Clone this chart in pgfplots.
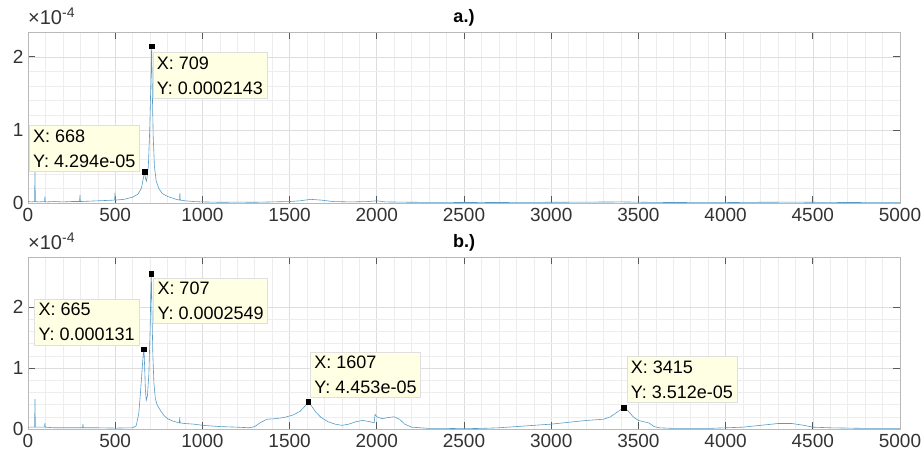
\documentclass[border=0pt]{standalone}
\usepackage{pgfplots}
\pgfplotsset{compat=1.18}
\usepackage{fontspec}
\setmainfont{Liberation Sans}
\definecolor{specline}{RGB}{85,155,200}
\definecolor{tipfill}{RGB}{255,255,228}
\pgfplotsset{
  spec/.style={
    scale only axis, width=872pt, xmin=0, xmax=5000,
    xtick={0,500,...,5000}, minor x tick num=4, minor y tick num=4,
    ytick={0,1,2},
    grid=both,
    major grid style={gray!27, line width=0.6pt},
    minor grid style={gray!14, line width=0.5pt},
    axis line style={gray!55, line width=0.8pt},
    tick align=inside, major tick length=7pt, minor tick length=0pt,
    every tick/.style={black!65, line width=0.8pt},
    tick label style={font=\fontsize{19}{21}\selectfont, text=black!80},
    /pgf/number format/assume math mode=true,
    /pgf/number format/1000 sep={},
    xticklabel style={yshift=-2pt}, yticklabel style={xshift=-1pt},
    title style={font=\bfseries\fontsize{18}{20}\selectfont, yshift=-4pt},
    clip=false,
  },
}
\tikzset{
  tip/.style={fill=tipfill, draw=gray!25, line width=0.4pt, align=left,
    font=\fontsize{18}{25}\selectfont, inner xsep=4pt, inner ysep=4pt},
  expo/.style={anchor=south west, inner sep=0pt, font=\fontsize{20}{22}\selectfont, text=black!80},
}
\begin{document}
\begin{tikzpicture}
\useasboundingbox (-28pt,-256pt) rectangle (894pt,203pt);
% ---------------- a.)
\begin{axis}[spec, at={(0pt,0pt)}, height=171pt, ymin=0, ymax=2.34, title={a.)}]
\addplot[specline, line width=0.6pt] coordinates {
(0,0.02) (20,0.015) (38,0.02) (40,0.46) (42,0.02) (60,0.015) (95,0.02) (97,0.09) (99,0.015)
(150,0.02) (200,0.015) (250,0.02) (296,0.02) (298,0.11) (300,0.02) (350,0.025) (400,0.03)
(450,0.035) (497,0.04) (499,0.14) (501,0.04) (550,0.05) (600,0.08) (630,0.12) (650,0.2)
(660,0.32) (668,0.4294) (674,0.33) (680,0.3) (690,0.5) (698,1.0) (704,1.6) (709,2.143)
(713,1.5) (718,0.9) (725,0.5) (735,0.3) (750,0.2) (770,0.13) (800,0.09) (850,0.05)
(869,0.04) (871,0.14) (873,0.04) (900,0.03) (950,0.02) (1000,0.015) (1100,0.01)
(1200,0.012) (1300,0.01) (1400,0.015) (1500,0.02) (1560,0.03) (1620,0.05) (1680,0.04)
(1750,0.02) (1850,0.015) (1950,0.02) (2000,0.03) (2050,0.015) (2200,0.01) (2400,0.008)
(2600,0.006) (2800,0.008) (3000,0.01) (3200,0.012) (3400,0.015) (3600,0.008) (3800,0.006)
(4000,0.006) (4200,0.01) (4400,0.012) (4600,0.008) (4800,0.006) (5000,0.005)
};
\addplot[only marks, mark=square*, mark size=2.3pt, black] coordinates {(668,0.4294) (709,2.143)};
\node[tip, anchor=south east] at ([xshift=-5pt,yshift=0pt]axis cs:668,0.4294) {X: 668\\Y: 4.294e-05};
\node[tip, anchor=north west] at ([xshift=1pt,yshift=-6pt]axis cs:709,2.143) {X: 709\\Y: 0.0002143};
\node[expo] at ([yshift=7pt]rel axis cs:0,1) {×10\raisebox{7pt}{\fontsize{14}{16}\selectfont -4}};
\end{axis}
% ---------------- b.)
\begin{axis}[spec, at={(0pt,-226pt)}, height=172pt, ymin=0, ymax=2.82, title={b.)}]
\addplot[specline, line width=0.6pt] coordinates {
(0,0.03) (38,0.03) (40,0.49) (42,0.03) (95,0.03) (97,0.1) (99,0.03) (150,0.02) (250,0.02)
(313,0.02) (315,0.08) (317,0.02) (400,0.02) (500,0.015) (600,0.02) (620,0.05) (635,0.25)
(645,0.6) (655,1.0) (660,1.2) (665,1.31) (669,1.0) (673,0.65) (678,0.47) (685,0.55)
(693,0.9) (700,1.6) (704,2.2) (707,2.549) (711,1.9) (716,1.2) (722,0.75) (730,0.5)
(740,0.4) (760,0.3) (780,0.22) (800,0.17) (830,0.13) (868,0.1) (870,0.19) (872,0.1)
(900,0.09) (950,0.08) (1000,0.06) (1100,0.04) (1200,0.03) (1270,0.02) (1300,0.04)
(1330,0.1) (1370,0.16) (1420,0.17) (1470,0.19) (1520,0.23) (1560,0.29) (1590,0.38)
(1607,0.4453) (1625,0.38) (1650,0.28) (1680,0.19) (1720,0.12) (1760,0.08) (1800,0.06)
(1840,0.08) (1880,0.12) (1920,0.14) (1960,0.12) (1985,0.1) (1990,0.24) (2000,0.2)
(2030,0.17) (2070,0.19) (2100,0.2) (2130,0.16) (2160,0.08) (2200,0.03) (2300,0.01)
(2400,0.01) (2500,0.005) (2600,0.01) (2700,0.02) (2800,0.04) (2900,0.06) (3000,0.08)
(3100,0.11) (3200,0.14) (3250,0.15) (3300,0.16) (3340,0.2) (3380,0.28) (3415,0.3512)
(3440,0.3) (3470,0.2) (3500,0.14) (3530,0.12) (3560,0.1) (3590,0.04) (3620,0.02)
(3700,0.01) (3800,0.01) (3900,0.01) (4000,0.02) (4100,0.03) (4200,0.06) (4300,0.09)
(4380,0.09) (4450,0.06) (4500,0.03) (4600,0.02) (4700,0.015) (4800,0.01) (4900,0.01) (5000,0.01)
};
\addplot[only marks, mark=square*, mark size=2.3pt, black] coordinates {(665,1.31) (707,2.549) (1607,0.4453) (3415,0.3512)};
\node[tip, anchor=south east] at ([xshift=-5pt,yshift=4pt]axis cs:665,1.31) {X: 665\\Y: 0.000131};
\node[tip, anchor=north west] at ([xshift=2pt,yshift=-4pt]axis cs:707,2.549) {X: 707\\Y: 0.0002549};
\node[tip, anchor=south west] at ([xshift=2pt,yshift=4pt]axis cs:1607,0.4453) {X: 1607\\Y: 4.453e-05};
\node[tip, anchor=south west] at ([xshift=3pt,yshift=5pt]axis cs:3415,0.3512) {X: 3415\\Y: 3.512e-05};
\node[expo] at ([yshift=7pt]rel axis cs:0,1) {×10\raisebox{7pt}{\fontsize{14}{16}\selectfont -4}};
\end{axis}
\end{tikzpicture}
\end{document}
